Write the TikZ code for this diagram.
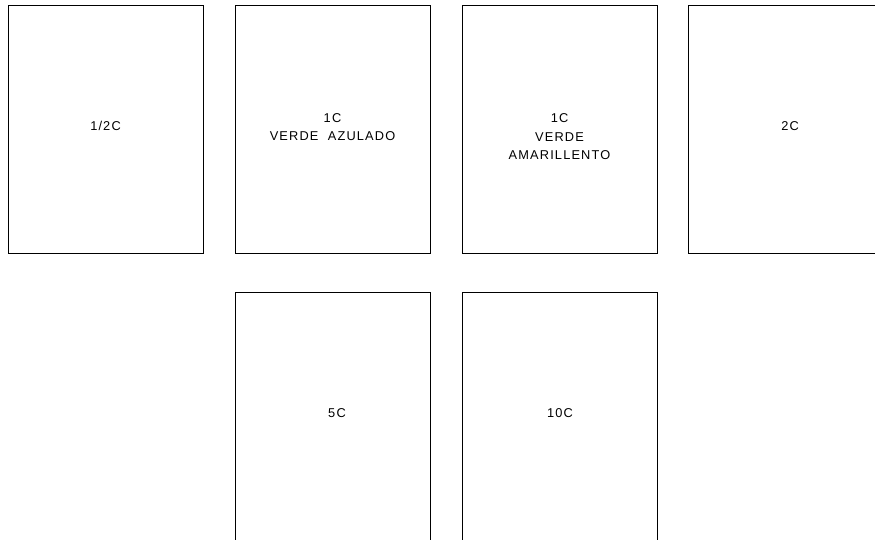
\documentclass[tikz,border=0pt]{standalone}
\usepackage{fontspec}
\setmainfont{Liberation Sans}[LetterSpace=9]
\begin{document}
\begin{tikzpicture}[x=1pt,y=-1pt,
  card/.style={draw=black,line width=1pt,fill=white,minimum width=195pt,minimum height=248pt,inner sep=0pt,anchor=north west},
  lbl/.style={font=\fontsize{12.8}{18.5}\selectfont,align=center,inner sep=0pt}]
\useasboundingbox (0,0) rectangle (875,540);
\fill[white] (0,0) rectangle (875,540);
\clip (0,0) rectangle (875,540);
\node[card] (b1) at (8,5) {};
\node[card] (b2) at (235,5) {};
\node[card] (b3) at (462,5) {};
\node[card] (b4) at (688,5) {};
\node[card] (b5) at (235,292) {};
\node[card] (b6) at (462,292) {};
\node[lbl] (t1) at (105.5,126) {1/2C};
\node[lbl] (t2) at (332.5,127) {1C\\VERDE\ \ AZULADO};
\node[lbl] (t3) at (559.5,137) {1C\\VERDE\\AMARILLENTO};
\node[lbl] (t4) at (790,126) {2C};
\node[lbl] (t5) at (337,413) {5C};
\node[lbl] (t6) at (560,413) {10C};
\end{tikzpicture}
\end{document}
